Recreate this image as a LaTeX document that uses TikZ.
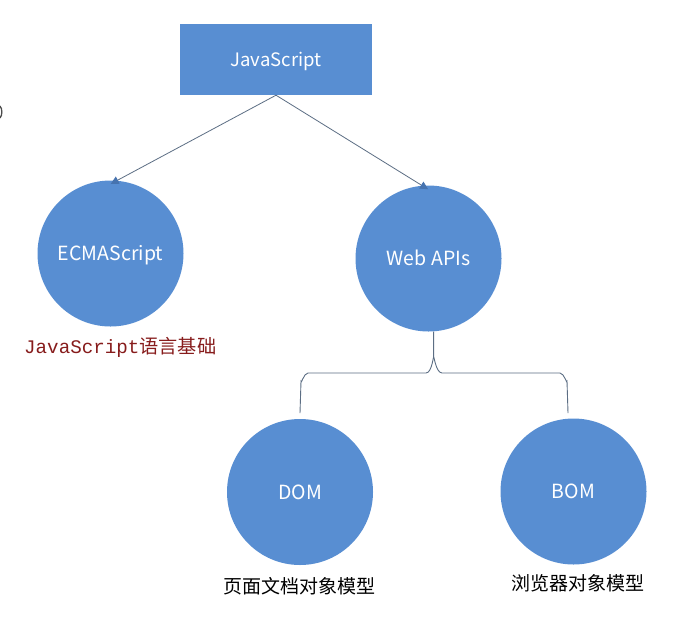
\documentclass[tikz,border=0pt]{standalone}
\usepackage{fontspec}
\setmainfont{Noto Sans CJK SC}
\newfontfamily\cjk{Noto Sans CJK SC}
\newfontfamily\monof{Liberation Mono}
\usetikzlibrary{arrows.meta}
\definecolor{nodeblue}{RGB}{88,142,210}
\definecolor{linegray}{RGB}{92,110,132}
\definecolor{tipblue}{RGB}{70,115,175}
\definecolor{labelred}{RGB}{135,28,28}
\tikzset{
  boxnode/.style={fill=nodeblue, minimum width=192pt, minimum height=71pt, inner sep=0pt, text=white, text height=13pt, text depth=0pt, font=\fontsize{18.5}{22}\selectfont},
  circnode/.style={circle, fill=nodeblue, inner sep=0pt, minimum size=146pt, text=white, text height=14pt, text depth=0pt, font=\fontsize{19.5}{23}\selectfont},
  lblnode/.style={inner sep=0pt, text=black, font=\fontsize{19}{22}\selectfont},
  conn/.style={draw=linegray, line width=0.8pt, shorten >=-7pt, -{Triangle[width=8pt,length=8pt,color=tipblue]}},
  bracelines/.style={draw=linegray, line width=0.9pt},
}
\begin{document}
\begin{tikzpicture}[x=1pt,y=-1pt]
\useasboundingbox (0,0) rectangle (679,627);
\fill[white] (0,0) rectangle (679,627);
% tiny cut-off mark at left edge
\draw[gray!60!black, line width=1.3pt] (0,106) .. controls (2.5,109) and (2.5,115) .. (0,118);

\node[boxnode] (js) at (276,59.5) {JavaScript};
\node[circnode] (ecma) at (110.5,253.5) {ECMAScript};
\node[circnode] (web) at (428.5,258.5) {Web APIs};
\node[circnode] (dom) at (300,492) {DOM};
\node[circnode] (bom) at (573.5,491.5) {BOM};

\node[anchor=west, inner sep=0pt, text=labelred, font=\fontsize{19.2}{22}\selectfont] (jslbl) at (24,347) {\monof JavaScript\cjk 语言基础};
\node[lblnode] (domlbl) at (299,586) {页面文档对象模型};
\node[lblnode] (bomlbl) at (578,583) {浏览器对象模型};

\draw[conn] (js.south) -- (ecma.85);
\draw[conn] (js.south) -- (web.95);

\coordinate (domtop) at (300,413);
\coordinate (bomtop) at (568,413);
\draw[bracelines] (web.-86) -- ++(0,27) to[out=90,in=0] (426,373) -- (308,373) to[out=180,in=-90] (301,381) -- (domtop);
\draw[bracelines] (web.-86) ++(0,27) to[out=90,in=180] (442,373) -- (560,373) to[out=0,in=-90] (567,381) -- (bomtop);
\end{tikzpicture}
\end{document}
